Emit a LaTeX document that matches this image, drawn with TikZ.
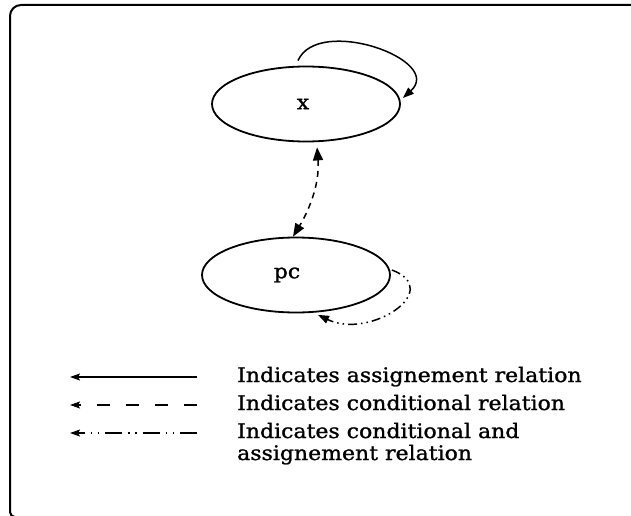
\documentclass[tikz,border=0pt]{standalone}
\usepackage{fontspec}
\setmainfont{DejaVu Serif}[FakeStretch=1.1,FakeBold=1.2]
\usetikzlibrary{arrows.meta,shapes.geometric,calc}

\tikzset{
  looptip/.tip={Triangle[length=11pt,width=8pt]},
  bigtip/.tip={Triangle[length=13pt,width=10pt]},
  legtip/.tip={Stealth[length=10pt,width=7pt,inset=2pt]},
}

\begin{document}
\begin{tikzpicture}[x=1pt,y=-1pt,
  state/.style={ellipse, draw, line width=1.8pt, minimum width=188pt,
    minimum height=75pt, inner sep=0pt, font=\fontsize{20}{22}\selectfont},
  rel/.style={line width=1.5pt},
  cond/.style={rel, dash pattern=on 6pt off 5pt},
  condassign/.style={rel, dash pattern=on 9pt off 4pt on 1.5pt off 4pt on 1.5pt off 4pt},
  legtext/.style={anchor=base west, inner sep=0pt,
    font=\fontsize{20}{22}\selectfont, align=left},
  frame/.style={line width=2pt},
]
% page area
\path[use as bounding box, clip] (0,0) rectangle (631,516);
\fill[white] (0,0) rectangle (631,516);

% outer frame, open to the right and bottom
\draw[frame] (660,5) [rounded corners=11pt] -- (10,5)
  [rounded corners=5pt] -- (10,517) -- (660,517);

% the two variables
\node[state] (x)  at (306,104) {\hspace*{-6pt}x};
\node[state] (pc) at (296,275) {\hspace*{-18pt}pc};

% assignment of x to itself
\draw[rel, -{looptip}] ($(x.north)+(-8,-5)$)
  .. controls (318,15) and (445,60) .. ($(x.east)+(2,-6)$);

% conditional relation between x and pc
\draw[cond, {bigtip}-{bigtip}] ($(x.south)+(11,5)$)
  .. controls (320,185) and (308,212) .. ($(pc.north)+(-3,0)$);

% conditional and assignment relation of pc to itself
\draw[condassign, -{looptip}] ($(pc.east)+(1,-5)$)
  .. controls (445,290) and (370,340) .. ($(pc.south)+(22,1.5)$);

% legend
\coordinate (a1) at (70,377);  \coordinate (b1) at (197,377);
\coordinate (a2) at (70,405);  \coordinate (b2) at (197,405);
\coordinate (a3) at (70,433);  \coordinate (b3) at (197,433);
\draw[rel, -{legtip}] (b1) -- (a1);
\draw[rel, dash pattern=on 13pt off 16pt, -{legtip}] (b2) -- (a2);
\draw[rel, dash pattern=on 17pt off 6pt on 1.5pt off 5.5pt on 1.5pt off 6pt,
  -{legtip}] (b3) -- (a3);

\node[legtext] (t1) at (237,382) {Indicates assignement relation};
\node[legtext] (t2) at (237,410) {Indicates conditional relation};
\node[legtext] (t3) at (237,460) {Indicates conditional and\\assignement relation};
\end{tikzpicture}
\end{document}
